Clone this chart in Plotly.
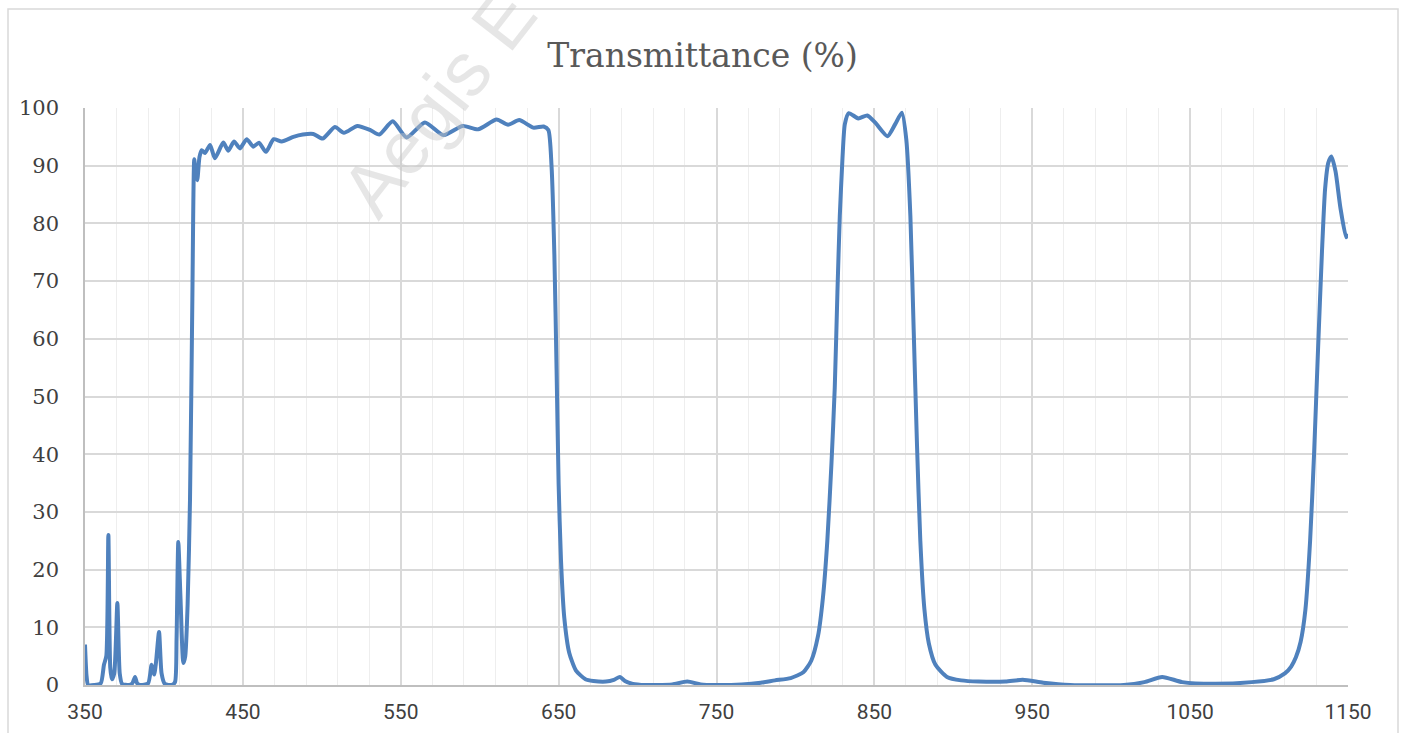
import plotly.graph_objects as go

# Wavelength (nm) and transmittance (%)
wavelength = [
    350, 351, 352, 356, 360, 362, 363.5, 364.8, 366, 367, 368.5, 370.5, 372, 373.5,
    378, 380, 381.7, 383, 385, 390, 392.2, 393.8, 395, 396.9, 398.5, 400.5, 405,
    407, 408, 409.1, 410.5, 412.3, 413.5, 415, 416.5, 418, 419.2, 420, 421.1,
    422.5, 423.9, 426, 429.2, 432.3, 437.6, 440.8, 444.4, 448.2, 452.4, 456.6,
    460.2, 464.6, 469.5, 474.6, 482, 488, 494.6, 500.5, 508.3, 514, 522.5, 530.5,
    536.4, 544.9, 553.7, 565.3, 576.9, 589.2, 599, 610.7, 618, 625, 634, 640.5,
    643.5, 645.5, 647.3, 648.7, 650, 651.5, 653.6, 656.7, 661, 667, 672, 680,
    685, 688.8, 692, 697, 705, 712, 722, 731.5, 740, 750, 766, 778, 787, 797,
    805, 810, 814.3, 817.4, 820.2, 822.8, 824.9, 826.6, 828.1, 829.8, 831.3,
    833.8, 839.8, 845.5, 850.4, 858.3, 863.2, 867.4, 870.2, 872.8, 874.9, 877,
    879.1, 881.7, 884.5, 888.7, 896, 905, 916, 933, 944, 957, 974, 1008, 1021,
    1032.3, 1045, 1065, 1089, 1103, 1110, 1114, 1117, 1120, 1123, 1126,
    1128.5, 1131, 1133.5, 1135.5, 1137.5, 1139.5, 1142.1, 1145.2, 1148.8, 1150,
]
transmittance = [
    7.0, 1.5, 0, 0, 0.3, 3.5, 5, 26, 3, 1, 2, 14.2, 2, 0.2,
    0, 0.3, 1.4, 0.3, 0, 0.3, 3.5, 1.8, 4, 9.2, 2, 0.2, 0,
    0.5, 8, 24.8, 15, 3.8, 5, 14, 32, 67, 91.1, 89, 87.5,
    91.5, 92.7, 92.2, 93.6, 91.3, 94.0, 92.6, 94.2, 93.0, 94.6, 93.3,
    94.0, 92.4, 94.6, 94.2, 95.0, 95.4, 95.5, 94.7, 96.7, 95.7, 96.9, 96.2,
    95.4, 97.7, 94.9, 97.5, 95.3, 96.9, 96.3, 98.0, 97.1, 97.9, 96.6, 96.8,
    96.2, 90, 74.6, 54.7, 34.8, 21.6, 11.6, 5.6, 2.5, 1.0, 0.7, 0.6,
    0.9, 1.4, 0.7, 0.2, 0, 0, 0.1, 0.6, 0.1, 0, 0.1, 0.4, 0.8, 1.2,
    2.2, 4.2, 8.5, 15.1, 25, 38.3, 51.5, 68.1, 81.3, 91.3, 97.2,
    99.1, 98.2, 98.7, 97.5, 95.1, 97.2, 99.2, 94.6, 81.3, 61.5, 41.6,
    25, 13.1, 7.2, 3.5, 1.4, 0.8, 0.6, 0.6, 0.9, 0.4, 0, 0, 0.5,
    1.4, 0.5, 0.2, 0.5, 1.0, 2.0, 3.2, 4.8, 7.5, 13, 25,
    40, 58, 75, 86, 90.5, 91.6, 89, 82.7, 77.6, 78.2,
]

x_ticks = [350, 450, 550, 650, 750, 850, 950, 1050, 1150]
y_ticks = [0, 10, 20, 30, 40, 50, 60, 70, 80, 90, 100]

L, R, T, B = 85, 57, 108, 48
W, H = 1405, 733
pw, ph = W - L - R, H - T - B

def px_x(p):
    return (p - L) / pw

def px_y(p):
    return (H - B - p) / ph

fig = go.Figure()
fig.add_trace(go.Scatter(
    x=wavelength, y=transmittance, mode="lines",
    line=dict(color="#4f81bd", width=4, shape="spline", smoothing=0.6),
    hoverinfo="x+y", showlegend=False,
))

fig.update_layout(
    width=W, height=H,
    margin=dict(l=L, r=R, t=T, b=B, autoexpand=False),
    paper_bgcolor="white", plot_bgcolor="white",
    title=dict(
        text="Transmittance (%)", x=0.5, xanchor="center",
        y=1 - 55 / H, yanchor="middle",
        font=dict(family="DejaVu Serif", size=33, color="#595959"),
    ),
    xaxis=dict(
        range=[350, 1150], tickvals=x_ticks, ticktext=[str(v) for v in x_ticks],
        showgrid=True, gridcolor="#d9d9d9", gridwidth=1.5,
        minor=dict(dtick=20, tick0=350, showgrid=True, gridcolor="#eeeeee", gridwidth=1.2),
        showline=True, linecolor="#bfbfbf", linewidth=2,
        zeroline=False, ticks="", ticklabelstandoff=7, automargin=False,
        tickfont=dict(family="Roboto", size=21, color="#404040"),
    ),
    yaxis=dict(
        range=[0, 100], tickvals=y_ticks, ticktext=[str(v) for v in y_ticks],
        showgrid=True, gridcolor="#d9d9d9", gridwidth=1.5,
        showline=True, linecolor="#bfbfbf", linewidth=1.5,
        zeroline=False, ticks="", ticklabelstandoff=20, automargin=False,
        tickfont=dict(family="DejaVu Serif", size=21, color="#404040"),
    ),
    shapes=[dict(
        type="rect", xref="paper", yref="paper",
        x0=px_x(8), x1=px_x(1398), y0=px_y(740), y1=px_y(9),
        line=dict(color="#d9d9d9", width=1.5), fillcolor="rgba(0,0,0,0)",
        layer="below",
    )],
    annotations=[dict(
        text="Aegis E", xref="paper", yref="paper",
        x=px_x(438), y=px_y(102), xanchor="center", yanchor="middle",
        textangle=-52, showarrow=False,
        font=dict(family="Liberation Sans", size=76, color="rgba(200,200,200,0.45)"),
    )],
)

fig.write_html("out.html")
